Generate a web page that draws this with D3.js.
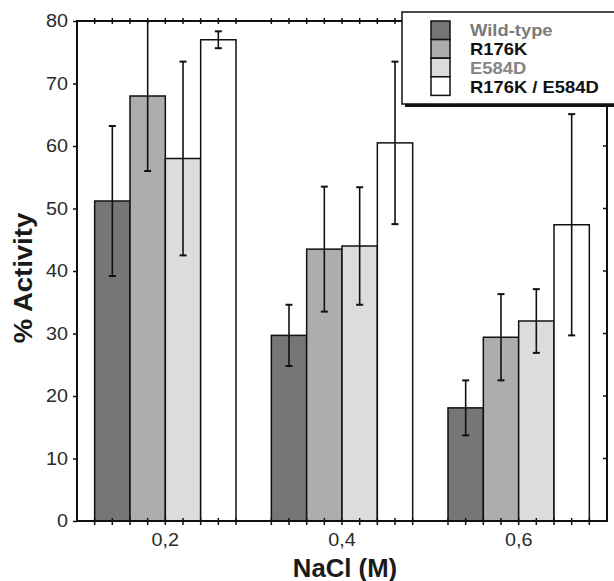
<!DOCTYPE html>
<html><head><meta charset="utf-8">
<script src="https://cdn.jsdelivr.net/npm/d3@7/dist/d3.min.js"></script>
<style>body{margin:0;background:#fff;}svg{display:block;font-family:"Liberation Sans",Arial,sans-serif;}</style>
</head><body><svg id="c" width="614" height="581"></svg>
<script>
const categories = ["0,2", "0,4", "0,6"];
const seriesNames = ["Wild-type", "R176K", "E584D", "R176K / E584D"];
const wildType    = [51.2, 29.7, 18.1];
const r176k       = [68.0, 43.5, 29.4];
const e584d       = [58.0, 44.0, 32.0];
const double      = [77.0, 60.5, 47.4];
const wildTypeErr = [12.0, 4.9, 4.4];
const r176kErr    = [12.0, 10.0, 6.9];
const e584dErr    = [15.5, 9.4, 5.1];
const doubleErr   = [1.35, 13.0, 17.7];
const yTicks = [0, 10, 20, 30, 40, 50, 60, 70, 80];

const fills = ["#767676", "#adadad", "#dcdcdc", "#ffffff"];
const legendColors = ["#7a7a7a", "#111", "#858585", "#111"];
const values = [wildType, r176k, e584d, double];
const errs = [wildTypeErr, r176kErr, e584dErr, doubleErr];
const SX = 1.13;

const svg = d3.select("#c");
const L = 77, R = 607, T = 21, B = 521;
const x0 = d3.scaleBand().domain(categories).range([L, R]).paddingInner(0.2).paddingOuter(0.1);
const x1 = d3.scaleBand().domain(seriesNames).range([0, x0.bandwidth()]);
const y = d3.scaleLinear().domain([0, 80]).range([B, T]);

const data = [];
categories.forEach((c, i) => seriesNames.forEach((s, j) => data.push({c, s, j, v: values[j][i], e: errs[j][i]})));

// bars
svg.append("g").selectAll("rect").data(data).join("rect")
  .attr("x", d => x0(d.c) + x1(d.s))
  .attr("y", d => y(d.v))
  .attr("width", x1.bandwidth())
  .attr("height", d => y(0) - y(d.v))
  .attr("fill", d => fills[d.j])
  .attr("stroke", "#111").attr("stroke-width", 1.5);

// error bars
const eg = svg.append("g").attr("stroke", "#111");
data.forEach(d => {
  const cx = x0(d.c) + x1(d.s) + x1.bandwidth() / 2;
  const hi = Math.min(80, d.v + d.e), lo = d.v - d.e;
  eg.append("line").attr("x1", cx).attr("x2", cx).attr("y1", y(hi)).attr("y2", y(lo)).attr("stroke-width", 1.6);
  [hi, lo].forEach(v => eg.append("line").attr("x1", cx - 3.5).attr("x2", cx + 3.5).attr("y1", y(v)).attr("y2", y(v)).attr("stroke-width", 2));
});

// frame
svg.append("rect").attr("x", L).attr("y", T).attr("width", R - L).attr("height", B - T)
  .attr("fill", "none").attr("stroke", "#111").attr("stroke-width", 2);

// x ticks (bar edges and centres), top and bottom
const xt = [];
categories.forEach(c => seriesNames.forEach(s => {
  const x = x0(c) + x1(s);
  xt.push(x, x + x1.bandwidth() / 2);
}));
categories.forEach(c => xt.push(x0(c) + x0.bandwidth()));
const tg = svg.append("g").attr("stroke", "#111").attr("stroke-width", 1.5);
xt.forEach(x => {
  tg.append("line").attr("x1", x).attr("x2", x).attr("y1", B - 3).attr("y2", B + 4);
  tg.append("line").attr("x1", x).attr("x2", x).attr("y1", T - 3).attr("y2", T + 3);
});
// right axis inward ticks
yTicks.slice(1, -1).forEach(v => tg.append("line").attr("x1", R - 4).attr("x2", R).attr("y1", y(v)).attr("y2", y(v)));

// y axis
const ya = svg.append("g").attr("transform", `translate(${L},0)`)
  .call(d3.axisLeft(y).tickValues(yTicks).tickSize(4).tickPadding(5));
ya.select(".domain").remove();
ya.selectAll(".tick line").attr("stroke", "#111").attr("stroke-width", 1.5);
ya.selectAll(".tick text").attr("x", 0).attr("transform", `translate(-9,0) scale(${SX},1)`)
  .attr("font-size", 17.5).attr("fill", "#2a2a2a").attr("font-family", "Liberation Sans, Arial, sans-serif");

// x category labels
svg.append("g").selectAll("text").data(categories).join("text")
  .attr("transform", d => `translate(${x0(d) + x0.bandwidth() / 2},546) scale(${SX},1)`)
  .attr("text-anchor", "middle").attr("font-size", 17.5).attr("fill", "#2a2a2a").text(d => d);

// axis titles
svg.append("text").attr("transform", `translate(${(L + R) / 2 + 3},577) scale(1.03,1)`).attr("text-anchor", "middle")
  .attr("font-size", 25).attr("font-weight", "bold").attr("fill", "#1a1a1a").text("NaCl (M)");
svg.append("text").attr("transform", "translate(32,278) rotate(-90) scale(1.1,1)").attr("text-anchor", "middle")
  .attr("font-size", 25).attr("font-weight", "bold").attr("fill", "#1a1a1a").text("% Activity");

// legend
const lg = svg.append("g");
lg.append("rect").attr("x", 405).attr("y", 15).attr("width", 230).attr("height", 92).attr("fill", "#111");
lg.append("rect").attr("x", 402).attr("y", 12).attr("width", 230).attr("height", 92).attr("fill", "#fff")
  .attr("stroke", "#111").attr("stroke-width", 1.5);
seriesNames.forEach((s, j) => {
  lg.append("rect").attr("x", 431).attr("y", 21 + j * 18.6).attr("width", 19).attr("height", 18.6)
    .attr("fill", fills[j]).attr("stroke", "#111").attr("stroke-width", 1.5);
  lg.append("text").attr("transform", `translate(470,${36 + j * 19}) scale(1.15,1)`).attr("font-size", 16).attr("font-weight", "bold")
    .attr("fill", legendColors[j]).text(s);
});
</script></body></html>
